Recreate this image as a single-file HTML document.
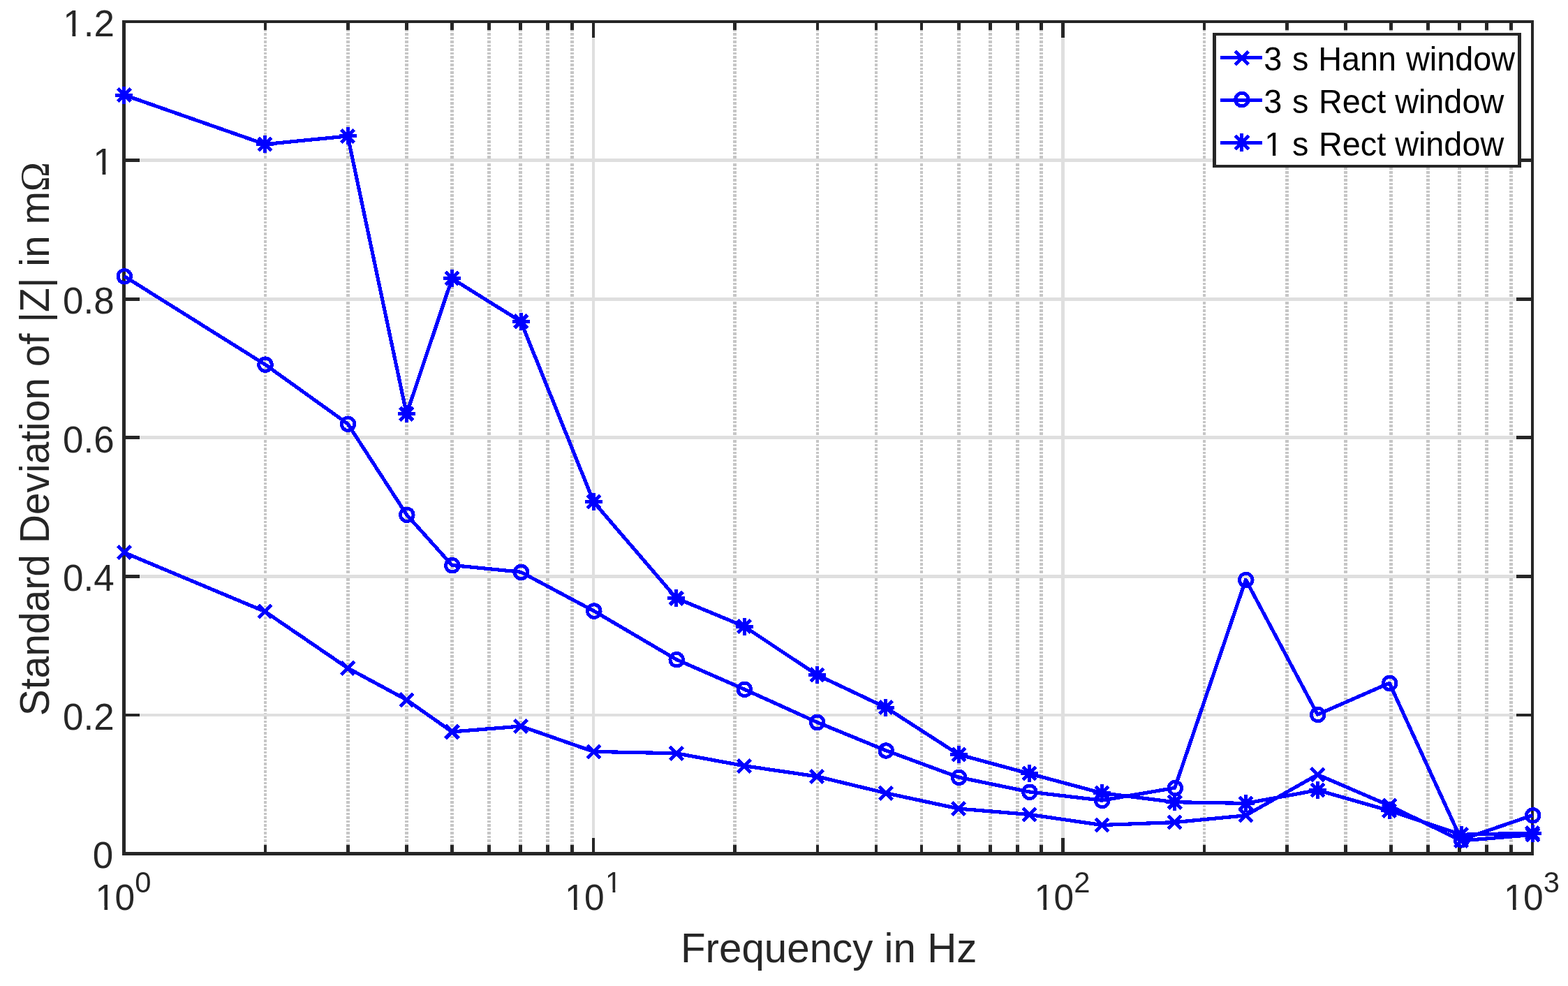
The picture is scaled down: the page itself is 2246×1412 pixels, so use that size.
<!DOCTYPE html>
<html lang="en"><head><meta charset="utf-8"><title>Standard Deviation of |Z| vs Frequency</title>
<style>
html,body{margin:0;padding:0;background:#fff;width:2246px;height:1412px;overflow:hidden}
svg{display:block}
text{font-family:"Liberation Sans",Arial,Helvetica,sans-serif;fill:#262626}
.tk{font-size:53px}
.tx{font-size:51.5px;letter-spacing:-0.7px}
.ex{font-size:41.8px}
.lb{font-size:58.3px}
.lg{font-size:46.8px;fill:#000}
.om{font-family:"Liberation Serif","Times New Roman",serif}
</style></head>
<body>
<svg width="2246" height="1412" viewBox="0 0 2246 1412">
<defs><clipPath id="c1"><path d="M1809.26 -37.44H1836.07V-4.90H1827.21V2H1822.98V-4.90H1809.26ZM1836.07 -46.80H2211.26V18.72H1836.07Z"/></clipPath><clipPath id="c2"><path d="M-2.00 -42.40H28.09V-5.36H18.06V2H13.28V-5.36H-2.00Z"/></clipPath><clipPath id="c3"><path d="M-2.00 -42.40H28.09V-5.36H18.06V2H13.28V-5.36H-2.00ZM28.09 -53.00H90.00V21.20H28.09Z"/></clipPath><clipPath id="c4"><path d="M-2.00 -41.20H27.30V-5.25H17.55V2H12.90V-5.25H-2.00ZM27.30 -51.50H70.00V20.60H27.30Z"/></clipPath><clipPath id="c5"><path d="M-2.00 -33.44H22.15V-4.52H14.25V2H10.46V-4.52H-2.00Z"/></clipPath></defs>
<rect width="2246" height="1412" fill="#fff"/>
<g stroke="#c6c6c6" stroke-width="4.7" stroke-dasharray="4 2 3 2" shape-rendering="crispEdges" fill="none">
<line x1="379.94" y1="36" x2="379.94" y2="1210.30"/>
<line x1="498.36" y1="36" x2="498.36" y2="1210.30"/>
<line x1="582.39" y1="36" x2="582.39" y2="1210.30"/>
<line x1="647.56" y1="36" x2="647.56" y2="1210.30"/>
<line x1="700.81" y1="36" x2="700.81" y2="1210.30"/>
<line x1="745.83" y1="36" x2="745.83" y2="1210.30"/>
<line x1="784.83" y1="36" x2="784.83" y2="1210.30"/>
<line x1="819.23" y1="36" x2="819.23" y2="1210.30"/>
<line x1="1052.44" y1="36" x2="1052.44" y2="1210.30"/>
<line x1="1170.86" y1="36" x2="1170.86" y2="1210.30"/>
<line x1="1254.89" y1="36" x2="1254.89" y2="1210.30"/>
<line x1="1320.06" y1="36" x2="1320.06" y2="1210.30"/>
<line x1="1373.31" y1="36" x2="1373.31" y2="1210.30"/>
<line x1="1418.33" y1="36" x2="1418.33" y2="1210.30"/>
<line x1="1457.33" y1="36" x2="1457.33" y2="1210.30"/>
<line x1="1491.73" y1="36" x2="1491.73" y2="1210.30"/>
<line x1="1724.94" y1="36" x2="1724.94" y2="1210.30"/>
<line x1="1843.36" y1="36" x2="1843.36" y2="1210.30"/>
<line x1="1927.39" y1="36" x2="1927.39" y2="1210.30"/>
<line x1="1992.56" y1="36" x2="1992.56" y2="1210.30"/>
<line x1="2045.81" y1="36" x2="2045.81" y2="1210.30"/>
<line x1="2090.83" y1="36" x2="2090.83" y2="1210.30"/>
<line x1="2129.83" y1="36" x2="2129.83" y2="1210.30"/>
<line x1="2164.23" y1="36" x2="2164.23" y2="1210.30"/>
</g>
<g stroke="#dfdfdf" stroke-width="4.7" shape-rendering="crispEdges" fill="none">
<line x1="850.00" y1="31.00" x2="850.00" y2="1222.50"/>
<line x1="1522.50" y1="31.00" x2="1522.50" y2="1222.50"/>
<line x1="177.50" y1="1023.92" x2="2195.00" y2="1023.92"/>
<line x1="177.50" y1="825.33" x2="2195.00" y2="825.33"/>
<line x1="177.50" y1="626.75" x2="2195.00" y2="626.75"/>
<line x1="177.50" y1="428.17" x2="2195.00" y2="428.17"/>
<line x1="177.50" y1="229.58" x2="2195.00" y2="229.58"/>
</g>
<g fill="#262626" shape-rendering="crispEdges"><rect x="175" y="29" width="5" height="1196"/><rect x="175" y="29" width="2022" height="4"/><rect x="2193" y="29" width="4" height="1196"/><rect x="175" y="1220" width="2022" height="5"/></g>
<g stroke="#262626" stroke-width="4.7" shape-rendering="crispEdges" fill="none">
<line x1="379.94" y1="1222.5" x2="379.94" y2="1210.30"/>
<line x1="379.94" y1="31.0" x2="379.94" y2="43.20"/>
<line x1="498.36" y1="1222.5" x2="498.36" y2="1210.30"/>
<line x1="498.36" y1="31.0" x2="498.36" y2="43.20"/>
<line x1="582.39" y1="1222.5" x2="582.39" y2="1210.30"/>
<line x1="582.39" y1="31.0" x2="582.39" y2="43.20"/>
<line x1="647.56" y1="1222.5" x2="647.56" y2="1210.30"/>
<line x1="647.56" y1="31.0" x2="647.56" y2="43.20"/>
<line x1="700.81" y1="1222.5" x2="700.81" y2="1210.30"/>
<line x1="700.81" y1="31.0" x2="700.81" y2="43.20"/>
<line x1="745.83" y1="1222.5" x2="745.83" y2="1210.30"/>
<line x1="745.83" y1="31.0" x2="745.83" y2="43.20"/>
<line x1="784.83" y1="1222.5" x2="784.83" y2="1210.30"/>
<line x1="784.83" y1="31.0" x2="784.83" y2="43.20"/>
<line x1="819.23" y1="1222.5" x2="819.23" y2="1210.30"/>
<line x1="819.23" y1="31.0" x2="819.23" y2="43.20"/>
<line x1="1052.44" y1="1222.5" x2="1052.44" y2="1210.30"/>
<line x1="1052.44" y1="31.0" x2="1052.44" y2="43.20"/>
<line x1="1170.86" y1="1222.5" x2="1170.86" y2="1210.30"/>
<line x1="1170.86" y1="31.0" x2="1170.86" y2="43.20"/>
<line x1="1254.89" y1="1222.5" x2="1254.89" y2="1210.30"/>
<line x1="1254.89" y1="31.0" x2="1254.89" y2="43.20"/>
<line x1="1320.06" y1="1222.5" x2="1320.06" y2="1210.30"/>
<line x1="1320.06" y1="31.0" x2="1320.06" y2="43.20"/>
<line x1="1373.31" y1="1222.5" x2="1373.31" y2="1210.30"/>
<line x1="1373.31" y1="31.0" x2="1373.31" y2="43.20"/>
<line x1="1418.33" y1="1222.5" x2="1418.33" y2="1210.30"/>
<line x1="1418.33" y1="31.0" x2="1418.33" y2="43.20"/>
<line x1="1457.33" y1="1222.5" x2="1457.33" y2="1210.30"/>
<line x1="1457.33" y1="31.0" x2="1457.33" y2="43.20"/>
<line x1="1491.73" y1="1222.5" x2="1491.73" y2="1210.30"/>
<line x1="1491.73" y1="31.0" x2="1491.73" y2="43.20"/>
<line x1="1724.94" y1="1222.5" x2="1724.94" y2="1210.30"/>
<line x1="1724.94" y1="31.0" x2="1724.94" y2="43.20"/>
<line x1="1843.36" y1="1222.5" x2="1843.36" y2="1210.30"/>
<line x1="1843.36" y1="31.0" x2="1843.36" y2="43.20"/>
<line x1="1927.39" y1="1222.5" x2="1927.39" y2="1210.30"/>
<line x1="1927.39" y1="31.0" x2="1927.39" y2="43.20"/>
<line x1="1992.56" y1="1222.5" x2="1992.56" y2="1210.30"/>
<line x1="1992.56" y1="31.0" x2="1992.56" y2="43.20"/>
<line x1="2045.81" y1="1222.5" x2="2045.81" y2="1210.30"/>
<line x1="2045.81" y1="31.0" x2="2045.81" y2="43.20"/>
<line x1="2090.83" y1="1222.5" x2="2090.83" y2="1210.30"/>
<line x1="2090.83" y1="31.0" x2="2090.83" y2="43.20"/>
<line x1="2129.83" y1="1222.5" x2="2129.83" y2="1210.30"/>
<line x1="2129.83" y1="31.0" x2="2129.83" y2="43.20"/>
<line x1="2164.23" y1="1222.5" x2="2164.23" y2="1210.30"/>
<line x1="2164.23" y1="31.0" x2="2164.23" y2="43.20"/>
<line x1="850.00" y1="1222.5" x2="850.00" y2="1199.60"/>
<line x1="850.00" y1="31.0" x2="850.00" y2="53.90"/>
<line x1="1522.50" y1="1222.5" x2="1522.50" y2="1199.60"/>
<line x1="1522.50" y1="31.0" x2="1522.50" y2="53.90"/>
<line x1="177.5" y1="1023.92" x2="200.40" y2="1023.92"/>
<line x1="2195.0" y1="1023.92" x2="2172.10" y2="1023.92"/>
<line x1="177.5" y1="825.33" x2="200.40" y2="825.33"/>
<line x1="2195.0" y1="825.33" x2="2172.10" y2="825.33"/>
<line x1="177.5" y1="626.75" x2="200.40" y2="626.75"/>
<line x1="2195.0" y1="626.75" x2="2172.10" y2="626.75"/>
<line x1="177.5" y1="428.17" x2="200.40" y2="428.17"/>
<line x1="2195.0" y1="428.17" x2="2172.10" y2="428.17"/>
<line x1="177.5" y1="229.58" x2="200.40" y2="229.58"/>
<line x1="2195.0" y1="229.58" x2="2172.10" y2="229.58"/>
</g>
<polyline points="177.9,791.3 379.6,875.8 498.1,956.7 582.4,1002.2 647.5,1048.0 746.1,1040.0 850.4,1076.4 968.8,1078.8 1066.0,1096.7 1170.2,1111.9 1268.9,1135.7 1373.2,1158.1 1474.5,1166.5 1578.3,1181.5 1682.8,1177.6 1784.4,1167.8 1887.3,1109.3 1990.2,1153.6 2093.1,1204.0 2195.3,1195.5" fill="none" stroke="#0000ff" stroke-width="5.2" stroke-linejoin="round" shape-rendering="crispEdges"/>
<path fill="none" stroke="#0000ff" stroke-width="5.0" shape-rendering="crispEdges" d="M168.60 782.00L187.20 800.60M168.60 800.60L187.20 782.00M370.30 866.50L388.90 885.10M370.30 885.10L388.90 866.50M488.80 947.40L507.40 966.00M488.80 966.00L507.40 947.40M573.10 992.90L591.70 1011.50M573.10 1011.50L591.70 992.90M638.20 1038.70L656.80 1057.30M638.20 1057.30L656.80 1038.70M736.80 1030.70L755.40 1049.30M736.80 1049.30L755.40 1030.70M841.10 1067.10L859.70 1085.70M841.10 1085.70L859.70 1067.10M959.50 1069.50L978.10 1088.10M959.50 1088.10L978.10 1069.50M1056.70 1087.40L1075.30 1106.00M1056.70 1106.00L1075.30 1087.40M1160.90 1102.60L1179.50 1121.20M1160.90 1121.20L1179.50 1102.60M1259.60 1126.40L1278.20 1145.00M1259.60 1145.00L1278.20 1126.40M1363.90 1148.80L1382.50 1167.40M1363.90 1167.40L1382.50 1148.80M1465.20 1157.20L1483.80 1175.80M1465.20 1175.80L1483.80 1157.20M1569.00 1172.20L1587.60 1190.80M1569.00 1190.80L1587.60 1172.20M1673.50 1168.30L1692.10 1186.90M1673.50 1186.90L1692.10 1168.30M1775.10 1158.50L1793.70 1177.10M1775.10 1177.10L1793.70 1158.50M1878.00 1100.00L1896.60 1118.60M1878.00 1118.60L1896.60 1100.00M1980.90 1144.30L1999.50 1162.90M1980.90 1162.90L1999.50 1144.30M2083.80 1194.70L2102.40 1213.30M2083.80 1213.30L2102.40 1194.70M2186.00 1186.20L2204.60 1204.80M2186.00 1204.80L2204.60 1186.20"/>
<polyline points="177.9,395.5 379.6,521.9 498.1,606.9 582.4,737.0 647.5,809.4 746.1,819.2 850.4,874.8 968.8,944.4 1066.0,987.0 1170.2,1034.2 1268.9,1074.7 1373.2,1113.1 1474.5,1134.0 1578.3,1146.2 1682.8,1128.3 1784.4,830.2 1887.3,1023.2 1990.2,978.2 2093.1,1202.5 2195.3,1167.5" fill="none" stroke="#0000ff" stroke-width="5.2" stroke-linejoin="round" shape-rendering="crispEdges"/>
<g fill="none" stroke="#0000ff" stroke-width="5.0" shape-rendering="crispEdges"><circle cx="178.3" cy="395.8" r="9.25"/><circle cx="380.0" cy="522.2" r="9.25"/><circle cx="498.5" cy="607.2" r="9.25"/><circle cx="582.8" cy="737.3" r="9.25"/><circle cx="647.9" cy="809.7" r="9.25"/><circle cx="746.5" cy="819.5" r="9.25"/><circle cx="850.8" cy="875.1" r="9.25"/><circle cx="969.2" cy="944.7" r="9.25"/><circle cx="1066.4" cy="987.3" r="9.25"/><circle cx="1170.6" cy="1034.5" r="9.25"/><circle cx="1269.3" cy="1075.0" r="9.25"/><circle cx="1373.6" cy="1113.4" r="9.25"/><circle cx="1474.9" cy="1134.3" r="9.25"/><circle cx="1578.7" cy="1146.5" r="9.25"/><circle cx="1683.2" cy="1128.6" r="9.25"/><circle cx="1784.8" cy="830.5" r="9.25"/><circle cx="1887.7" cy="1023.5" r="9.25"/><circle cx="1990.6" cy="978.5" r="9.25"/><circle cx="2093.5" cy="1202.8" r="9.25"/><circle cx="2195.7" cy="1167.8" r="9.25"/></g>
<polyline points="177.9,136.0 379.6,206.6 498.1,194.9 582.4,592.9 647.5,398.9 746.1,460.4 850.4,718.8 968.8,856.7 1066.0,897.0 1170.2,966.4 1268.9,1013.2 1373.2,1080.5 1474.5,1107.9 1578.3,1135.7 1682.8,1148.7 1784.4,1150.4 1887.3,1131.5 1990.2,1160.9 2093.1,1195.3 2195.3,1193.0" fill="none" stroke="#0000ff" stroke-width="5.2" stroke-linejoin="round" shape-rendering="crispEdges"/>
<path fill="none" stroke="#0000ff" stroke-width="5.0" shape-rendering="crispEdges" d="M165.40 136.00L190.40 136.00M177.90 123.50L177.90 148.50M168.60 126.70L187.20 145.30M168.60 145.30L187.20 126.70M367.10 206.60L392.10 206.60M379.60 194.10L379.60 219.10M370.30 197.30L388.90 215.90M370.30 215.90L388.90 197.30M485.60 194.90L510.60 194.90M498.10 182.40L498.10 207.40M488.80 185.60L507.40 204.20M488.80 204.20L507.40 185.60M569.90 592.90L594.90 592.90M582.40 580.40L582.40 605.40M573.10 583.60L591.70 602.20M573.10 602.20L591.70 583.60M635.00 398.90L660.00 398.90M647.50 386.40L647.50 411.40M638.20 389.60L656.80 408.20M638.20 408.20L656.80 389.60M733.60 460.40L758.60 460.40M746.10 447.90L746.10 472.90M736.80 451.10L755.40 469.70M736.80 469.70L755.40 451.10M837.90 718.80L862.90 718.80M850.40 706.30L850.40 731.30M841.10 709.50L859.70 728.10M841.10 728.10L859.70 709.50M956.30 856.70L981.30 856.70M968.80 844.20L968.80 869.20M959.50 847.40L978.10 866.00M959.50 866.00L978.10 847.40M1053.50 897.00L1078.50 897.00M1066.00 884.50L1066.00 909.50M1056.70 887.70L1075.30 906.30M1056.70 906.30L1075.30 887.70M1157.70 966.40L1182.70 966.40M1170.20 953.90L1170.20 978.90M1160.90 957.10L1179.50 975.70M1160.90 975.70L1179.50 957.10M1256.40 1013.20L1281.40 1013.20M1268.90 1000.70L1268.90 1025.70M1259.60 1003.90L1278.20 1022.50M1259.60 1022.50L1278.20 1003.90M1360.70 1080.50L1385.70 1080.50M1373.20 1068.00L1373.20 1093.00M1363.90 1071.20L1382.50 1089.80M1363.90 1089.80L1382.50 1071.20M1462.00 1107.90L1487.00 1107.90M1474.50 1095.40L1474.50 1120.40M1465.20 1098.60L1483.80 1117.20M1465.20 1117.20L1483.80 1098.60M1565.80 1135.70L1590.80 1135.70M1578.30 1123.20L1578.30 1148.20M1569.00 1126.40L1587.60 1145.00M1569.00 1145.00L1587.60 1126.40M1670.30 1148.70L1695.30 1148.70M1682.80 1136.20L1682.80 1161.20M1673.50 1139.40L1692.10 1158.00M1673.50 1158.00L1692.10 1139.40M1771.90 1150.40L1796.90 1150.40M1784.40 1137.90L1784.40 1162.90M1775.10 1141.10L1793.70 1159.70M1775.10 1159.70L1793.70 1141.10M1874.80 1131.50L1899.80 1131.50M1887.30 1119.00L1887.30 1144.00M1878.00 1122.20L1896.60 1140.80M1878.00 1140.80L1896.60 1122.20M1977.70 1160.90L2002.70 1160.90M1990.20 1148.40L1990.20 1173.40M1980.90 1151.60L1999.50 1170.20M1980.90 1170.20L1999.50 1151.60M2080.60 1195.30L2105.60 1195.30M2093.10 1182.80L2093.10 1207.80M2083.80 1186.00L2102.40 1204.60M2083.80 1204.60L2102.40 1186.00M2182.80 1193.00L2207.80 1193.00M2195.30 1180.50L2195.30 1205.50M2186.00 1183.70L2204.60 1202.30M2186.00 1202.30L2204.60 1183.70"/>
<g shape-rendering="crispEdges"><rect x="1737" y="47" width="442" height="193" fill="#262626"/><rect x="1742" y="51" width="432" height="185" fill="#fff"/></g>
<line x1="1748" y1="82.4" x2="1808" y2="82.4" stroke="#0000ff" stroke-width="5.2" shape-rendering="crispEdges"/>
<path fill="none" stroke="#0000ff" stroke-width="5.0" shape-rendering="crispEdges" d="M1769.30 73.70L1788.30 92.70M1769.30 92.70L1788.30 73.70"/>
<text class="lg" xml:space="preserve" transform="translate(0 101.1) scale(1 1.04)"><tspan x="1810.22">3 </tspan><tspan x="1851.10">s </tspan><tspan x="1888.16">Hann </tspan><tspan x="2014.07">window</tspan></text>
<line x1="1748" y1="143.5" x2="1808" y2="143.5" stroke="#0000ff" stroke-width="5.2" shape-rendering="crispEdges"/>
<circle cx="1778.9" cy="142.6" r="9.25" fill="none" stroke="#0000ff" stroke-width="5.0" shape-rendering="crispEdges"/>
<text class="lg" xml:space="preserve" transform="translate(0 162.2) scale(1 1.04)"><tspan x="1810.22">3 </tspan><tspan x="1851.10">s </tspan><tspan x="1889.06">Rect </tspan><tspan x="1998.17">window</tspan></text>
<line x1="1748" y1="204.6" x2="1808" y2="204.6" stroke="#0000ff" stroke-width="5.2" shape-rendering="crispEdges"/>
<path fill="none" stroke="#0000ff" stroke-width="5.0" shape-rendering="crispEdges" d="M1765.70 204.00L1791.70 204.00M1778.70 191.00L1778.70 217.00M1768.90 194.20L1788.50 213.80M1768.90 213.80L1788.50 194.20"/>
<text class="lg" xml:space="preserve" clip-path="url(#c1)" transform="translate(0 223.1) scale(1 1.04)"><tspan x="1811.26">1 </tspan><tspan x="1851.10">s </tspan><tspan x="1889.06">Rect </tspan><tspan x="1998.17">window</tspan></text>
<text class="tk" text-anchor="end" transform="translate(162.2 1243.30) scale(1 1.012)">0</text>
<text class="tk" text-anchor="end" transform="translate(163.6 1044.72) scale(1 1.012)">0.2</text>
<text class="tk" text-anchor="end" transform="translate(163.6 846.13) scale(1 1.012)">0.4</text>
<text class="tk" text-anchor="end" transform="translate(163.6 647.55) scale(1 1.012)">0.6</text>
<text class="tk" text-anchor="end" transform="translate(163.6 448.97) scale(1 1.012)">0.8</text>
<text class="tk" clip-path="url(#c2)" transform="translate(133.33 250.38) scale(1 1.012)">1</text>
<text class="tk" clip-path="url(#c3)" transform="translate(90.23 51.80) scale(1 1.012)">1.2</text>
<text class="tx" clip-path="url(#c4)" transform="translate(136.57 1302.8)">10</text>
<text class="ex" text-anchor="middle" x="204.80" y="1277.9">0</text>
<text class="tx" clip-path="url(#c4)" transform="translate(809.07 1302.8)">10</text>
<text class="ex" clip-path="url(#c5)" transform="translate(867.09 1277.9)">1</text>
<text class="tx" clip-path="url(#c4)" transform="translate(1481.57 1302.8)">10</text>
<text class="ex" text-anchor="middle" x="1549.80" y="1277.9">2</text>
<text class="tx" clip-path="url(#c4)" transform="translate(2154.07 1302.8)">10</text>
<text class="ex" text-anchor="middle" x="2222.30" y="1277.9">3</text>
<text class="lb" text-anchor="middle" transform="translate(1187.2 1377.7) scale(1 1.02)">Frequency in Hz</text>
<text class="lb" text-anchor="middle" transform="translate(70 628.5) rotate(-90) scale(0.9765 1.025)">Standard Deviation of |Z| in m<tspan class="om">Ω</tspan></text>
</svg>
</body></html>
